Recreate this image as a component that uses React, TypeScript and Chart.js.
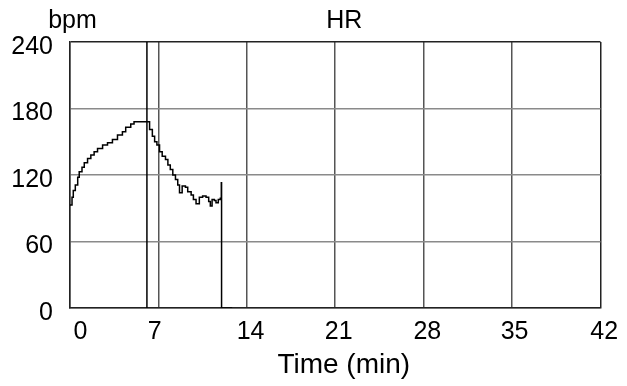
import { useEffect, useRef } from "react";
import { Chart, registerables } from "chart.js";

Chart.register(...registerables);

// ---- data ----
const hrTimes = [
  0, 0.16, 0.26, 0.42, 0.61, 0.73, 0.95, 1.13, 1.39, 1.65, 1.91, 2.18, 2.58, 2.97,
  3.36, 3.76, 4.15, 4.41, 4.81, 5.07, 6.3, 6.52, 6.7, 6.88, 7.09, 7.3, 7.56, 7.75,
  7.94, 8.14, 8.35, 8.53, 8.67, 8.88, 9.14, 9.32, 9.59, 9.77, 9.98, 10.24, 10.5,
  10.77, 10.98, 11.11, 11.25, 11.43, 11.56, 11.74, 11.9, 11.98, 12.0, 12.84,
];
const hrValues = [
  93, 100, 106, 111, 118, 123, 127, 131, 135, 138, 141, 144, 147, 149,
  152, 156, 159, 163, 166, 168, 161, 155, 150, 147, 141, 137, 134, 129,
  125, 120, 116, 111, 104, 110, 109, 105, 102, 98, 94, 100, 101,
  100, 96, 92, 98, 97, 95, 98, 99, 113, 0, 0,
];
const markerTime = 6.09;
const markerRange = [0, 240];
const yTicks = [0, 60, 120, 180, 240];
const xGridTicks = [0, 7, 14, 21, 28, 35, 42];
const xTickLabels = ["0", "7", "14", "21", "28", "35", "42"];
const xTickLabelPositions = [0.83, 6.7, 14.3, 21.28, 28.29, 35.2, 42.3];
const chartTitle = "HR";
const yUnit = "bpm";
const xTitle = "Time (min)";

const FONT = '"Liberation Sans", Arial, Helvetica, sans-serif';

const textPlugin = {
  id: "textPlugin",
  afterDraw(chart: any) {
    const { ctx, chartArea: a } = chart;
    ctx.save();
    ctx.fillStyle = "#000";
    ctx.textBaseline = "alphabetic";
    ctx.textAlign = "center";
    ctx.font = `25px ${FONT}`;
    ctx.fillText(yUnit, a.left + 2.5, a.top - 14);
    ctx.fillText(chartTitle, (a.left + a.right) / 2 + 9, a.top - 14);
    ctx.font = `28px ${FONT}`;
    ctx.fillText(xTitle, (a.left + a.right) / 2 + 8.5, a.bottom + 65);
    ctx.restore();
  },
};

export default function App() {
  const ref = useRef<HTMLCanvasElement | null>(null);

  useEffect(() => {
    if (!ref.current) return;
    Chart.defaults.font.family = FONT;
    const chart = new Chart(ref.current, {
      type: "line",
      data: {
        datasets: [
          {
            label: chartTitle,
            data: hrTimes.map((t, i) => ({ x: t, y: hrValues[i] })),
            stepped: true,
            borderColor: "#000",
            borderWidth: 1.5,
            pointRadius: 0,
            fill: false,
          },
          {
            label: "marker",
            data: markerRange.map((v) => ({ x: markerTime, y: v })),
            borderColor: "#000",
            borderWidth: 1.5,
            pointRadius: 0,
            fill: false,
          },
        ],
      },
      options: {
        animation: false,
        responsive: false,
        events: [],
        layout: { padding: { top: 42, right: 24, left: 0, bottom: 0 } },
        plugins: {
          legend: { display: false },
          tooltip: { enabled: false },
          title: { display: false },
        },
        scales: {
          x: {
            type: "linear",
            position: "bottom",
            weight: 0,
            min: 0,
            max: 42,
            afterBuildTicks: (s: any) => {
              s.ticks = xGridTicks.map((v) => ({ value: v }));
            },
            ticks: { display: false },
            grid: {
              drawTicks: false,
              lineWidth: 1.5,
              color: (c: any) => (c.tick && c.tick.value === 42 ? "#222" : "#555"),
            },
            border: { color: "#222", width: 1.5 },
            afterFit: (s: any) => {
              s.height = 0;
            },
          },
          xLabels: {
            type: "linear",
            position: "bottom",
            weight: 1,
            min: 0,
            max: 42,
            afterBuildTicks: (s: any) => {
              s.ticks = xTickLabelPositions.map((v) => ({ value: v }));
            },
            grid: { display: false, drawTicks: false },
            border: { display: false },
            ticks: {
              autoSkip: false,
              maxRotation: 0,
              padding: 9,
              color: "#000",
              font: { size: 25, family: FONT },
              callback: (_v: any, i: number) => xTickLabels[i],
            },
            afterFit: (s: any) => {
              s.height = 78;
            },
          },
          y: {
            type: "linear",
            min: 0,
            max: 240,
            afterBuildTicks: (s: any) => {
              s.ticks = yTicks.map((v) => ({ value: v }));
            },
            ticks: {
              padding: 17,
              labelOffset: 5,
              color: "#000",
              font: { size: 25, family: FONT },
            },
            grid: {
              drawTicks: false,
              lineWidth: 1.5,
              color: (c: any) => (c.tick && c.tick.value === 240 ? "#222" : "#8a8a8a"),
            },
            border: { color: "#222", width: 1.5 },
            afterFit: (s: any) => {
              s.width = 70;
            },
          },
        },
      } as any,
      plugins: [textPlugin],
    });
    return () => chart.destroy();
  }, []);

  return (
    <div style={{ position: "absolute", left: 0, top: 0, width: 627, height: 386, background: "#fff" }}>
      <canvas ref={ref} width={627} height={386} style={{ display: "block" }} />
    </div>
  );
}
